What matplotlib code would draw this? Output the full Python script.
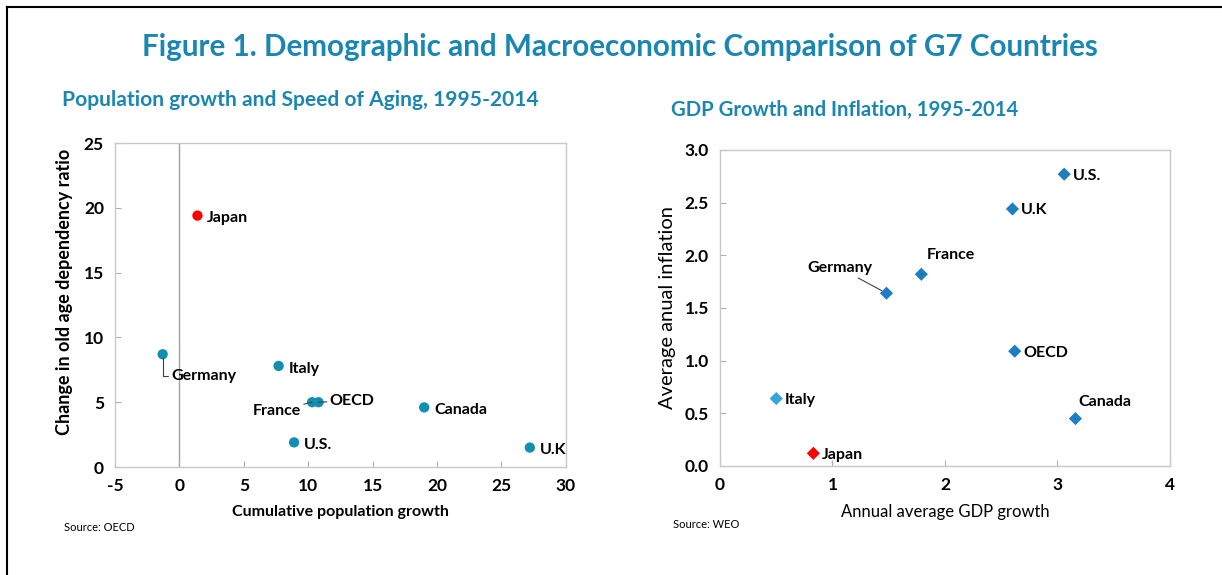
import matplotlib.pyplot as plt
from matplotlib.lines import Line2D

plt.rcParams['font.family'] = ['Lato', 'DejaVu Sans']
plt.rcParams['axes.unicode_minus'] = False

TEAL = '#1a86b2'

# 左图: 人口增长与老龄化速度
pop_countries = ['Japan', 'Germany', 'Italy', 'France', 'OECD', 'Canada', 'U.S.', 'U.K']
pop_growth = [1.4, -1.3, 7.7, 10.3, 10.8, 19.0, 8.9, 27.2]
old_age_change = [19.4, 8.7, 7.8, 5.0, 5.0, 4.6, 1.9, 1.5]
pop_xticks = [-5, 0, 5, 10, 15, 20, 25, 30]
pop_yticks = [0, 5, 10, 15, 20, 25]

# 右图: GDP 增长与通胀
gdp_countries = ['U.S.', 'U.K', 'France', 'Germany', 'OECD', 'Canada', 'Italy', 'Japan']
gdp_growth = [3.06, 2.60, 1.79, 1.48, 2.62, 3.16, 0.50, 0.83]
inflation = [2.77, 2.44, 1.82, 1.64, 1.09, 0.45, 0.64, 0.12]
gdp_xticks = [0, 1, 2, 3, 4]
gdp_yticks = [0.0, 0.5, 1.0, 1.5, 2.0, 2.5, 3.0]

fig = plt.figure(figsize=(12.22, 5.75), dpi=100)

# 外框 (只见左边和上边)
fig.add_artist(Line2D([0.0057, 0.0057], [0, 0.988], color='black', lw=1.5))
fig.add_artist(Line2D([0.0057, 1.0], [0.988, 0.988], color='black', lw=1.5))

fig.text(0.507, 0.918, 'Figure 1. Demographic and Macroeconomic Comparison of G7 Countries',
         ha='center', va='center', fontsize=21.3, fontweight='bold', color=TEAL)
fig.text(0.051, 0.826, 'Population growth and Speed of Aging, 1995-2014',
         ha='left', va='center', fontsize=15.1, fontweight='bold', color=TEAL)
fig.text(0.549, 0.808, 'GDP Growth and Inflation, 1995-2014',
         ha='left', va='center', fontsize=14.6, fontweight='bold', color=TEAL)
fig.text(0.052, 0.082, 'Source: OECD', ha='left', va='center', fontsize=8)
fig.text(0.551, 0.088, 'Source: WEO', ha='left', va='center', fontsize=8)


def style_axes(ax):
    for s in ax.spines.values():
        s.set_color('#c8c8c8')
        s.set_linewidth(1.0)
    ax.tick_params(direction='in', length=4, color='#b0b0b0', pad=8)
    for lab in ax.get_xticklabels() + ax.get_yticklabels():
        lab.set_fontweight('bold')
        lab.set_fontsize(12.5)


# ---- 左图 ----
ax1 = fig.add_axes([0.0941, 0.1878, 0.369, 0.5635])
ax1.set_xlim(-5, 30)
ax1.set_ylim(0, 25)
ax1.set_xticks(pop_xticks)
ax1.set_yticks(pop_yticks)
ax1.axvline(0, color='#a0a0a0', lw=1.0, zorder=1)
for name, x, y in zip(pop_countries, pop_growth, old_age_change):
    c = 'red' if name == 'Japan' else '#118fb0'
    ax1.scatter(x, y, s=55, color=c, zorder=3, edgecolors='none')
style_axes(ax1)

lab_kw = dict(fontsize=11.5, fontweight='bold', va='center')
for name, x, y in zip(pop_countries, pop_growth, old_age_change):
    if name == 'Germany':
        ax1.annotate(name, (x, y), xytext=(6, -16), textcoords='offset points',
                     ha='left', arrowprops=dict(arrowstyle='-', color='#404040', lw=0.8,
                                                shrinkA=0, shrinkB=3,
                                                connectionstyle='angle,angleA=0,angleB=90,rad=0'),
                     **lab_kw)
    elif name == 'France':
        ax1.annotate(name, (x, y), xytext=(-8, -6), textcoords='offset points',
                     ha='right', arrowprops=dict(arrowstyle='-', color='#404040', lw=0.8,
                                                 shrinkA=0, shrinkB=0), **lab_kw)
    elif name == 'OECD':
        ax1.annotate(name, (x, y), xytext=(8, 1), textcoords='offset points',
                     ha='left', arrowprops=dict(arrowstyle='-', color='#404040', lw=0.8,
                                                shrinkA=0, shrinkB=0), **lab_kw)
    else:
        ax1.annotate(name, (x, y), xytext=(7, -2), textcoords='offset points',
                     ha='left', **lab_kw)

ax1.set_xlabel('Cumulative population growth', fontsize=11.5, fontweight='bold', labelpad=8)
ax1.set_ylabel('Change in old age dependency ratio', fontsize=13, fontweight='bold')
ax1.yaxis.set_label_coords(-0.094, 0.54)

# ---- 右图 ----
ax2 = fig.add_axes([0.5892, 0.1896, 0.3682, 0.5496])
ax2.set_xlim(0, 4)
ax2.set_ylim(0, 3)
ax2.set_xticks(gdp_xticks)
ax2.set_yticks(gdp_yticks)
ax2.set_yticklabels(['%.1f' % v for v in gdp_yticks])
for name, x, y in zip(gdp_countries, gdp_growth, inflation):
    if name == 'Japan':
        c = 'red'
    elif name == 'Italy':
        c = '#36a3dc'
    else:
        c = '#1f7dc1'
    ax2.scatter(x, y, s=45, marker='D', color=c, zorder=3, edgecolors='none')
style_axes(ax2)

for name, x, y in zip(gdp_countries, gdp_growth, inflation):
    if name == 'Germany':
        ax2.annotate(name, (x, y), xytext=(-10, 18), textcoords='offset points',
                     ha='right', arrowprops=dict(arrowstyle='-', color='#404040', lw=0.8,
                                                 shrinkA=0, shrinkB=4), **lab_kw)
    elif name == 'France':
        ax2.annotate(name, (x, y), xytext=(4, 14), textcoords='offset points',
                     ha='left', arrowprops=dict(arrowstyle='-', color='#404040', lw=0.8,
                                                shrinkA=12, shrinkB=4), **lab_kw)
    elif name == 'Canada':
        ax2.annotate(name, (x, y), xytext=(2, 12), textcoords='offset points',
                     ha='left', arrowprops=dict(arrowstyle='-', color='#404040', lw=0.8,
                                                shrinkA=10, shrinkB=4), **lab_kw)
    else:
        ax2.annotate(name, (x, y), xytext=(6, -1), textcoords='offset points',
                     ha='left', **lab_kw)

ax2.set_xlabel('Annual average GDP growth', fontsize=12, labelpad=8)
ax2.set_ylabel('Average anual inflation', fontsize=14.5, labelpad=6)

fig.savefig('out.png', dpi=100)
